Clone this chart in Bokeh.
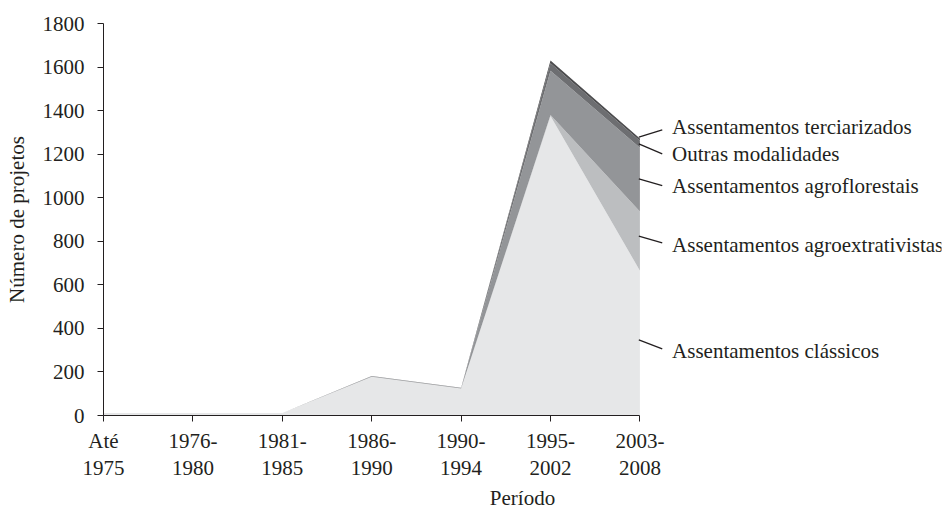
from bokeh.plotting import figure
from bokeh.models import Range1d, LinearAxis, FixedTicker, ColumnDataSource
from bokeh.core.properties import value
from bokeh.embed import file_html
from bokeh.resources import INLINE

# ---- data ----
periods_top = ["Até", "1976-", "1981-", "1986-", "1990-", "1995-", "2003-"]
periods_bottom = ["1975", "1980", "1985", "1990", "1994", "2002", "2008"]
classicos = [12, 11, 12, 178, 124, 1375, 665]
agroextrativistas = [0, 0, 0, 0, 0, 5, 272]
agroflorestais = [0, 0, 0, 2, 2, 203, 292]
outras = [0, 0, 0, 1, 1, 35, 33]
terciarizados = [0, 0, 0, 0, 0, 12, 10]
series_names = ["Assentamentos clássicos", "Assentamentos agroextrativistas",
                "Assentamentos agroflorestais", "Outras modalidades",
                "Assentamentos terciarizados"]
y_ticks = [0, 200, 400, 600, 800, 1000, 1200, 1400, 1600, 1800]

# ---- layout / style ----
FONT = "Liberation Serif"
FS = "21px"
TXT = "#231f20"
colors = ["#e6e7e8", "#bcbec0", "#939598", "#6d6e71", "#4d4d4f"]
# label anchors (layout): leader start y, leader end y, text y
label_layout = [(347, 306, 298), (824, 793, 784), (1086, 1055, 1055),
                (1247, 1201, 1201), (1278, 1312, 1327)]

x = list(range(len(periods_top)))
src = ColumnDataSource(dict(x=x, c=classicos, ae=agroextrativistas,
                            af=agroflorestais, o=outras, t=terciarizados))

p = figure(width=949, height=512, output_backend="svg", toolbar_location=None,
           x_range=Range1d(0, 838 / 89.4), y_range=Range1d(0, 1800),
           x_axis_location=None, y_axis_location=None,
           min_border_left=103, min_border_right=8, min_border_top=23,
           min_border_bottom=10)
p.outline_line_color = None
p.grid.visible = False
p.background_fill_color = "white"

p.varea_stack(stackers=["c", "ae", "af", "o", "t"], x="x", color=colors, source=src)

# y axis
yax = LinearAxis(ticker=FixedTicker(ticks=y_ticks), axis_label="Número de projetos")
yax.axis_line_color = TXT
yax.major_tick_line_color = TXT
yax.major_tick_out = 6
yax.major_tick_in = 0
yax.minor_tick_line_color = None
yax.major_label_standoff = 13
yax.major_label_text_font = FONT
yax.major_label_text_font_size = FS
yax.major_label_text_color = TXT
yax.axis_label_text_font = FONT
yax.axis_label_text_font_size = FS
yax.axis_label_text_font_style = "normal"
yax.axis_label_text_color = TXT
yax.axis_label_standoff = 11
p.add_layout(yax, "left")

# x axis (two rows of labels)
xax1 = LinearAxis(ticker=FixedTicker(ticks=x), bounds=(0, len(x) - 1),
                  major_label_overrides={i: s for i, s in enumerate(periods_top)})
xax1.axis_line_color = TXT
xax1.major_tick_line_color = TXT
xax1.major_tick_out = 6
xax1.major_tick_in = 0
xax1.minor_tick_line_color = None
xax1.major_label_standoff = 7
xax1.major_label_text_font = FONT
xax1.major_label_text_font_size = FS
xax1.major_label_text_color = TXT
p.add_layout(xax1, "below")

xax2 = LinearAxis(ticker=FixedTicker(ticks=x), bounds=(0, len(x) - 1),
                  major_label_overrides={i: s for i, s in enumerate(periods_bottom)},
                  axis_label="Período")
xax2.axis_line_color = None
xax2.major_tick_line_color = None
xax2.major_tick_out = 0
xax2.major_tick_in = 0
xax2.minor_tick_line_color = None
xax2.major_label_standoff = 5
xax2.major_label_text_font = FONT
xax2.major_label_text_font_size = FS
xax2.major_label_text_color = TXT
xax2.axis_label_text_font = FONT
xax2.axis_label_text_font_size = FS
xax2.axis_label_text_font_style = "normal"
xax2.axis_label_text_color = TXT
xax2.axis_label_standoff = 8
p.add_layout(xax2, "below")

# series labels with leader lines
last = len(x) - 1
x0s = [last - 0.012] * len(series_names)
x1s = [last + 0.25] * len(series_names)
tx = [last + 0.36] * len(series_names)
p.segment(x0=x0s, x1=x1s, y0=[l[0] for l in label_layout], y1=[l[1] for l in label_layout],
          line_color=TXT, line_width=1.3)
p.text(x=tx, y=[l[2] for l in label_layout], text=series_names,
       text_font=value(FONT), text_font_size=FS, text_color=TXT,
       text_align="left", text_baseline="middle")

open("out.html", "w").write(file_html(p, INLINE))
